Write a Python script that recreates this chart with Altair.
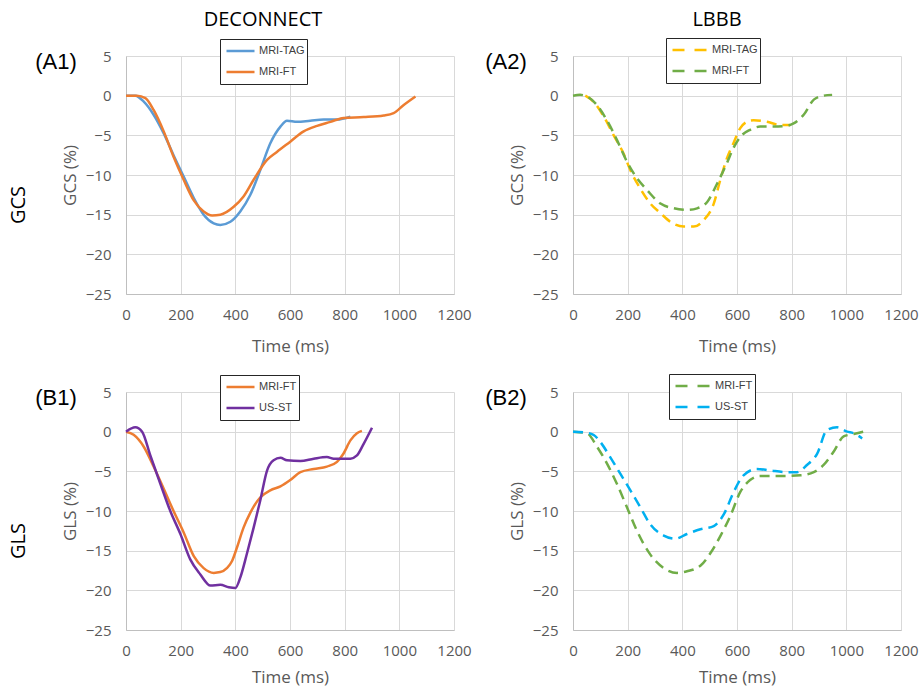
import altair as alt
import pandas as pd

X_TICKS = [0, 200, 400, 600, 800, 1000, 1200]
Y_TICKS = [5, 0, -5, -10, -15, -20, -25]

# ---- (A1) DECONNECT, GCS ----
a1_tag_t = [0, 34, 65, 101, 138, 174, 211, 248, 284, 321, 345, 382, 418, 455, 491, 528, 565, 589, 626, 674, 723, 772, 821]
a1_tag_v = [0, 0, -0.76, -2.4, -4.75, -7.5, -10.2, -12.9, -15.0, -16.1, -16.3, -15.9, -14.6, -12.5, -9.4, -6.0, -3.9, -3.15, -3.3, -3.15, -3.0, -3.0, -2.65]
a1_ft_t = [0, 40, 71, 101, 138, 174, 211, 248, 284, 315, 345, 394, 430, 467, 516, 552, 601, 650, 699, 748, 796, 870, 943, 979, 1015, 1059]
a1_ft_v = [0, 0, -0.3, -1.8, -4.5, -7.7, -10.6, -13.2, -14.6, -15.1, -15.0, -14.0, -12.7, -10.6, -8.1, -7.1, -5.8, -4.5, -3.8, -3.3, -2.8, -2.7, -2.5, -2.2, -1.2, -0.1]

# ---- (A2) LBBB, GCS ----
a2_tag_t = [45, 75, 112, 149, 185, 210, 246, 283, 320, 356, 405, 442, 478, 515, 539, 563, 587, 612, 636, 661, 710, 758, 795]
a2_tag_v = [0, -0.76, -2.6, -5.0, -7.3, -9.4, -11.7, -13.6, -14.8, -15.9, -16.5, -16.5, -15.7, -13.6, -10.6, -7.9, -6.0, -4.1, -3.3, -3.1, -3.3, -3.7, -3.7]
a2_ft_t = [0, 26, 51, 88, 124, 161, 197, 234, 271, 320, 369, 417, 454, 491, 527, 563, 587, 612, 648, 685, 734, 783, 807, 844, 881, 917, 948]
a2_ft_v = [0, 0.1, -0.1, -1.2, -3.1, -5.6, -8.3, -10.4, -11.9, -13.6, -14.2, -14.4, -14.2, -13.4, -11.1, -8.5, -6.6, -5.2, -4.3, -3.9, -3.9, -3.8, -3.5, -2.4, -0.5, 0, 0.1]

# ---- (B1) DECONNECT, GLS ----
b1_ft_t = [0, 28, 65, 101, 138, 174, 211, 248, 284, 321, 345, 369, 388, 406, 430, 455, 491, 528, 565, 601, 638, 687, 735, 772, 796, 821, 845, 863]
b1_ft_v = [0, -0.4, -1.9, -4.4, -7.2, -10.0, -12.7, -15.7, -17.2, -17.8, -17.7, -17.2, -16.3, -14.6, -12.1, -10.2, -8.3, -7.4, -6.9, -6.1, -5.1, -4.7, -4.4, -3.8, -2.75, -1.1, -0.2, 0.1]
b1_us_t = [0, 34, 59, 89, 126, 162, 199, 235, 272, 309, 345, 376, 400, 418, 443, 467, 491, 516, 540, 565, 589, 638, 687, 735, 760, 821, 845, 870, 900]
b1_us_v = [0, 0.55, 0, -3.0, -6.6, -10.0, -12.9, -16.1, -18.0, -19.4, -19.3, -19.6, -19.7, -18.4, -15.3, -12.1, -8.7, -4.9, -3.6, -3.3, -3.6, -3.7, -3.4, -3.2, -3.4, -3.4, -3.0, -1.5, 0.5]

# ---- (B2) LBBB, GLS ----
b2_ft_t = [0, 51, 88, 124, 161, 197, 234, 283, 332, 381, 417, 466, 503, 540, 576, 612, 648, 685, 758, 832, 881, 917, 954, 990, 1027, 1064]
b2_ft_v = [0, -0.2, -1.9, -4.0, -6.6, -9.5, -12.5, -15.5, -17.2, -17.8, -17.6, -16.9, -15.3, -13.1, -10.6, -7.6, -6.1, -5.6, -5.6, -5.5, -5.1, -4.2, -2.5, -0.6, -0.3, 0]
b2_us_t = [0, 39, 75, 100, 136, 173, 210, 246, 283, 332, 374, 417, 466, 515, 552, 588, 624, 673, 722, 783, 820, 856, 893, 929, 966, 1003, 1027, 1058]
b2_us_v = [0, -0.1, -0.4, -1.3, -3.2, -5.3, -7.4, -9.5, -11.7, -13.1, -13.5, -12.9, -12.3, -11.9, -10.4, -7.6, -5.5, -4.7, -4.9, -5.1, -5.1, -4.2, -2.8, 0.2, 0.55, 0, -0.2, -0.85]

BLUE = "#5B9BD5"
ORANGE = "#ED7D31"
PURPLE = "#7030A0"
GOLD = "#FFC000"
GREEN = "#70AD47"
CYAN = "#00B0F0"

FONT = "Open Sans"
W, H = 328, 238


def make_df(series):
    rows = []
    for name, ts, vs in series:
        for t, v in zip(ts, vs):
            rows.append({"series": name, "t": t, "v": v})
    return pd.DataFrame(rows)


def text_layer(txt, x, y, size, font=FONT, angle=0):
    return alt.Chart(pd.DataFrame({"label": [txt]})).mark_text(
        font=font, fontSize=size, color="#000000", align="center",
        baseline="middle", angle=angle
    ).encode(text="label:N", x=alt.value(x), y=alt.value(y))


def panel(series, colors, dashed, ytitle, label, label_x, col_title, col_x,
          row_label, xtitle_y, leg_x, leg_y):
    df = make_df(series)
    names = [s[0] for s in series]
    leg_kwargs = dict(
        title=None, orient="none", legendX=leg_x, legendY=leg_y,
        direction="vertical", symbolType="stroke",
        symbolSize=1225 if dashed else 784, symbolStrokeWidth=2.5,
        clipHeight=20, rowPadding=1, padding=2, symbolOffset=3,
        strokeColor="#262626", fillColor="white",
        labelFont="Liberation Sans", labelFontSize=11, labelColor="#404040",
        labelOffset=3,
    )
    if dashed:
        leg_kwargs["symbolDash"] = [12, 10]
    mark_kwargs = dict(interpolate="monotone", strokeWidth=2.5)
    if dashed:
        mark_kwargs["strokeDash"] = [10, 6]
    line = alt.Chart(df).mark_line(**mark_kwargs).encode(
        x=alt.X("t:Q", scale=alt.Scale(domain=[0, 1200], nice=False),
                axis=alt.Axis(values=X_TICKS, format="d", title="Time (ms)",
                              grid=True, gridColor="#D9D9D9",
                              domainColor="#BFBFBF", ticks=False, tickSize=0,
                              labelFont=FONT, labelFontSize=15,
                              labelColor="#595959", labelPadding=13,
                              labelFlush=False, labelOverlap=False,
                              titleFont=FONT, titleFontSize=17,
                              titleColor="#595959", titleFontWeight="normal",
                              titleY=xtitle_y, titleBaseline="middle")),
        y=alt.Y("v:Q", scale=alt.Scale(domain=[-25, 5], nice=False),
                axis=alt.Axis(values=Y_TICKS, format="d", title=ytitle,
                              grid=True, gridColor="#D9D9D9",
                              domainColor="#BFBFBF", ticks=False, tickSize=0,
                              labelFont=FONT, labelFontSize=15,
                              labelColor="#595959", labelPadding=15,
                              labelFlush=False, labelOverlap=False,
                              titleFont=FONT, titleFontSize=17,
                              titleColor="#595959", titleFontWeight="normal",
                              titleX=-56, titleY=H / 2, titleAngle=270,
                              titleBaseline="middle", titleAlign="center")),
        color=alt.Color("series:N", scale=alt.Scale(domain=names, range=colors),
                        sort=names, legend=alt.Legend(**leg_kwargs)),
    )
    layers = [line, text_layer(label, label_x, 6, 22, font="Liberation Sans")]
    if col_title:
        layers.append(text_layer(col_title, col_x, -36, 20))
    if row_label:
        layers.append(text_layer(row_label, -107, 149, 20, angle=270))
    return alt.layer(*layers).properties(width=W, height=H)


A1 = panel([("MRI-TAG", a1_tag_t, a1_tag_v), ("MRI-FT", a1_ft_t, a1_ft_v)],
           [BLUE, ORANGE], False, "GCS (%)", "(A1)", -70, "DECONNECT", 137,
           "GCS", 52, 94, -17)
A2 = panel([("MRI-TAG", a2_tag_t, a2_tag_v), ("MRI-FT", a2_ft_t, a2_ft_v)],
           [GOLD, GREEN], True, "GCS (%)", "(A2)", -67, "LBBB", 144,
           None, 52, 93, -18)
B1 = panel([("MRI-FT", b1_ft_t, b1_ft_v), ("US-ST", b1_us_t, b1_us_v)],
           [ORANGE, PURPLE], False, "GLS (%)", "(B1)", -70, None, 0,
           "GLS", 47, 94, -17)
B2 = panel([("MRI-FT", b2_ft_t, b2_ft_v), ("US-ST", b2_us_t, b2_us_v)],
           [GREEN, CYAN], True, "GLS (%)", "(B2)", -67, None, 0,
           None, 47, 96, -18)

chart = alt.concat(
    A1, A2, B1, B2, columns=2, spacing={"row": 98, "column": 119},
    bounds="flush"
).resolve_scale(color="independent").resolve_legend(color="independent").properties(
    padding={"left": 9, "top": 10, "right": 0, "bottom": 4},
    background="white",
).configure_view(stroke=None)

chart.save("out.html", embed_options={"renderer": "svg", "actions": False})
